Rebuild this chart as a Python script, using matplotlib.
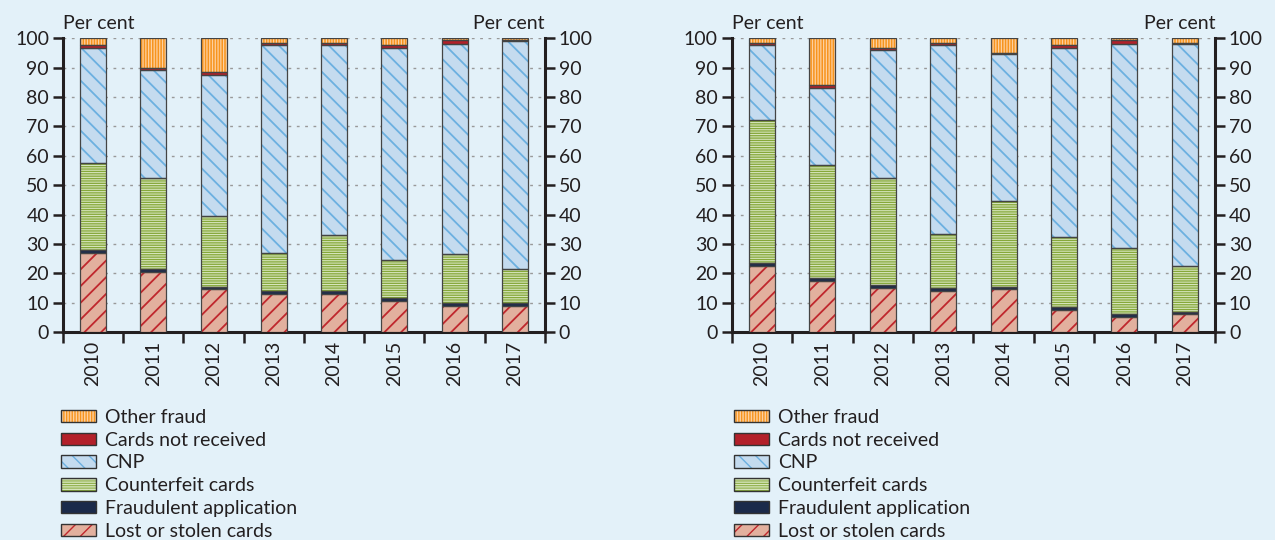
import matplotlib.pyplot as plt
import matplotlib.patches as mpatches
from matplotlib.legend_handler import HandlerTuple
import numpy as np

years = ["2010", "2011", "2012", "2013", "2014", "2015", "2016", "2017"]

# left panel, per cent of fraud losses
left_lost = [27, 20.5, 14.5, 13, 13, 10.5, 9, 9]
left_fraud_app = [1, 1, 1, 1, 1, 1, 1, 1]
left_counterfeit = [29.5, 31, 24, 13, 19, 13, 16.5, 11.5]
left_cnp = [39, 36.5, 48, 70.5, 64.5, 72, 71.5, 77.5]
left_cnr = [1, 1, 1, 1, 1, 1, 1.5, 0.3]
left_other = [2.5, 10, 11.5, 1.5, 1.5, 2.5, 0.5, 0.7]

# right panel
right_lost = [22.5, 17.5, 15, 14, 14.5, 7.5, 5, 6]
right_fraud_app = [1, 1, 1, 1, 1, 1, 1, 1]
right_counterfeit = [48.5, 38.5, 36.5, 18.5, 29, 24, 22.5, 15.5]
right_cnp = [25.5, 26, 43.5, 64, 50, 64, 69.5, 75.5]
right_cnr = [1, 1, 0.5, 1, 0.5, 1, 1.5, 0.2]
right_other = [1.5, 16, 3.5, 1.5, 5, 2.5, 0.5, 1.8]

labels = ["Lost or stolen cards", "Fraudulent application", "Counterfeit cards",
          "CNP", "Cards not received", "Other fraud"]

# (fill, hatch colour, hatch, hatch width)
styles = [("#e2b09e", "#c0272d", "//", 1.3),
          ("#1b2a4a", "#1b2a4a", "", 1.0),
          ("#86a83a", "#d6e5bd", "-------", 0.8),
          ("#c4dbef", "#6cb0e0", "\\\\", 1.3),
          ("#b3202a", "#b3202a", "", 1.0),
          ("#f7941d", "#fdd0a0", "||||||", 0.9)]

bg = "#e3f1f9"
fs = 14
plt.rcParams['font.family'] = ['Lato', 'DejaVu Sans']

fig = plt.figure(figsize=(12.75, 5.4), dpi=100, facecolor=bg)


def draw_panel(ax, series):
    ax.set_facecolor(bg)
    x = np.arange(len(years))
    bottom = np.zeros(len(years))
    for vals, (fc, hc, h, hw) in zip(series, styles):
        vals = np.array(vals)
        with plt.rc_context({'hatch.linewidth': hw}):
            ax.bar(x, vals, 0.43, bottom=bottom, color=fc, edgecolor=hc, hatch=h,
                   linewidth=0, zorder=3)
        ax.bar(x, vals, 0.43, bottom=bottom, facecolor="none", edgecolor="#444444",
               linewidth=0.9, zorder=4)
        bottom += vals

    ax.set_xlim(-0.5, len(years) - 0.5)
    ax.set_ylim(0, 100)
    ax.set_yticks(range(0, 101, 10))
    for y in range(10, 101, 10):
        ax.axhline(y, color="#999999", lw=1.0, ls=(0, (2, 4)), zorder=1)

    ax.set_xticks(np.arange(-0.5, len(years), 1))
    ax.set_xticklabels([])
    ax.set_xticks(x, minor=True)
    ax.set_xticklabels(years, minor=True, rotation=90, fontsize=fs)
    ax.tick_params(axis="x", which="major", length=8, width=1.8, direction="out",
                   color="#231f20")
    ax.tick_params(axis="x", which="minor", length=0, pad=6, colors="#231f20")
    ax.tick_params(axis="y", which="major", length=7, width=1.8, direction="out",
                   left=True, right=True, labelleft=True, labelright=True,
                   labelsize=fs, colors="#231f20", pad=3)

    ax.spines["top"].set_visible(False)
    for s in ["left", "right", "bottom"]:
        ax.spines[s].set_linewidth(2.2)
        ax.spines[s].set_color("#231f20")

    ax.text(0, 1.02, "Per cent", transform=ax.transAxes, fontsize=fs,
            ha="left", va="bottom", color="#231f20")
    ax.text(1, 1.02, "Per cent", transform=ax.transAxes, fontsize=fs,
            ha="right", va="bottom", color="#231f20")


ax1 = fig.add_axes([0.0494, 0.385, 0.378, 0.5444])
ax2 = fig.add_axes([0.574, 0.385, 0.379, 0.5444])
draw_panel(ax1, [left_lost, left_fraud_app, left_counterfeit, left_cnp, left_cnr, left_other])
draw_panel(ax2, [right_lost, right_fraud_app, right_counterfeit, right_cnp, right_cnr, right_other])

# legends, top entry is other fraud
handles = []
for fc, hc, h, hw in styles:
    with plt.rc_context({'hatch.linewidth': hw}):
        p1 = mpatches.Patch(facecolor=fc, edgecolor=hc, hatch=h, linewidth=0)
    p2 = mpatches.Patch(facecolor="none", edgecolor="#333333", linewidth=1.0)
    handles.append((p1, p2))

for xpos in [0.048, 0.576]:
    fig.legend(handles[::-1], labels[::-1], loc="upper left",
               bbox_to_anchor=(xpos, 0.243), frameon=False, fontsize=fs,
               handlelength=1.8, handleheight=0.6, labelspacing=0.3,
               handletextpad=0.45, borderaxespad=0, borderpad=0,
               handler_map={tuple: HandlerTuple(ndivide=1, pad=0)},
               labelcolor="#231f20")

fig.savefig("out.png", dpi=100, facecolor=bg)
